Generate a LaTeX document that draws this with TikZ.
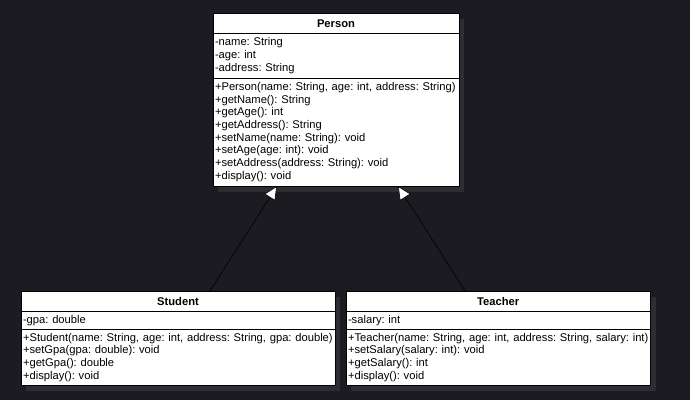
\documentclass[tikz,border=0pt]{standalone}
\usepackage{fontspec}
\setmainfont{Liberation Sans}
\usetikzlibrary{arrows.meta,positioning,shadows}
\definecolor{canvas}{HTML}{1C1B21}
\definecolor{shade}{HTML}{2E2D33}
\newcommand{\umlfont}{\fontsize{11.2}{12.7}\selectfont\frenchspacing}

\begin{document}
\begin{tikzpicture}[
    x=1pt, y=-1pt,
    font=\umlfont,
    box/.style={draw=black, fill=white, line width=0.8pt, inner ysep=0pt, outer sep=0pt,
        general shadow={fill=shade, shadow xshift=5pt, shadow yshift=-6pt}},
    cname/.style={box, font=\umlfont\bfseries, minimum height=20.5pt},
    members/.style={box, align=left, inner xsep=2pt},
    inherit/.style={draw=black, line width=0.6pt, -{Triangle[length=13.5pt, width=12.5pt, fill=white]}}
]
    \fill[canvas] (0,0) rectangle (690,400);
    \useasboundingbox (0,0) rectangle (690,400);

    % Person
    \node[cname, minimum width=246pt, anchor=north west] (ptitle) at (213,13) {Person};
    \node[members, text width=242pt, minimum height=44.5pt, below=0pt of ptitle] (pattr)
        {-name: String\\-age: int\\-address: String};
    \node[members, text width=242pt, minimum height=108pt, below=0pt of pattr] (pmeth)
        {+Person(name: String, age: int, address: String)\\+getName(): String\\+getAge(): int\\
         +getAddress(): String\\+setName(name: String): void\\+setAge(age: int): void\\
         +setAddress(address: String): void\\+display(): void};

    % Student
    \node[cname, minimum width=314pt, anchor=north west] (stitle) at (21,291) {Student};
    \node[members, text width=310pt, minimum height=18pt, below=0pt of stitle] (sattr)
        {-gpa: double};
    \node[members, text width=310pt, minimum height=55.5pt, below=0pt of sattr] (smeth)
        {+Student(name: String, age: int, address: String, gpa: double)\\+setGpa(gpa: double): void\\
         +getGpa(): double\\+display(): void};

    % Teacher
    \node[cname, minimum width=304.5pt, anchor=north west] (ttitle) at (346,291) {Teacher};
    \node[members, text width=300.5pt, minimum height=18pt, below=0pt of ttitle] (tattr)
        {-salary: int};
    \node[members, text width=300.5pt, minimum height=55.5pt, below=0pt of tattr] (tmeth)
        {+Teacher(name: String, age: int, address: String, salary: int)\\+setSalary(salary: int): void\\
         +getSalary(): int\\+display(): void};

    % Generalization
    \draw[inherit] ([xshift=32pt]stitle.north) -- ([xshift=-59pt]pmeth.south);
    \draw[inherit] ([xshift=-33pt]ttitle.north) -- ([xshift=62pt]pmeth.south);
\end{tikzpicture}
\end{document}
